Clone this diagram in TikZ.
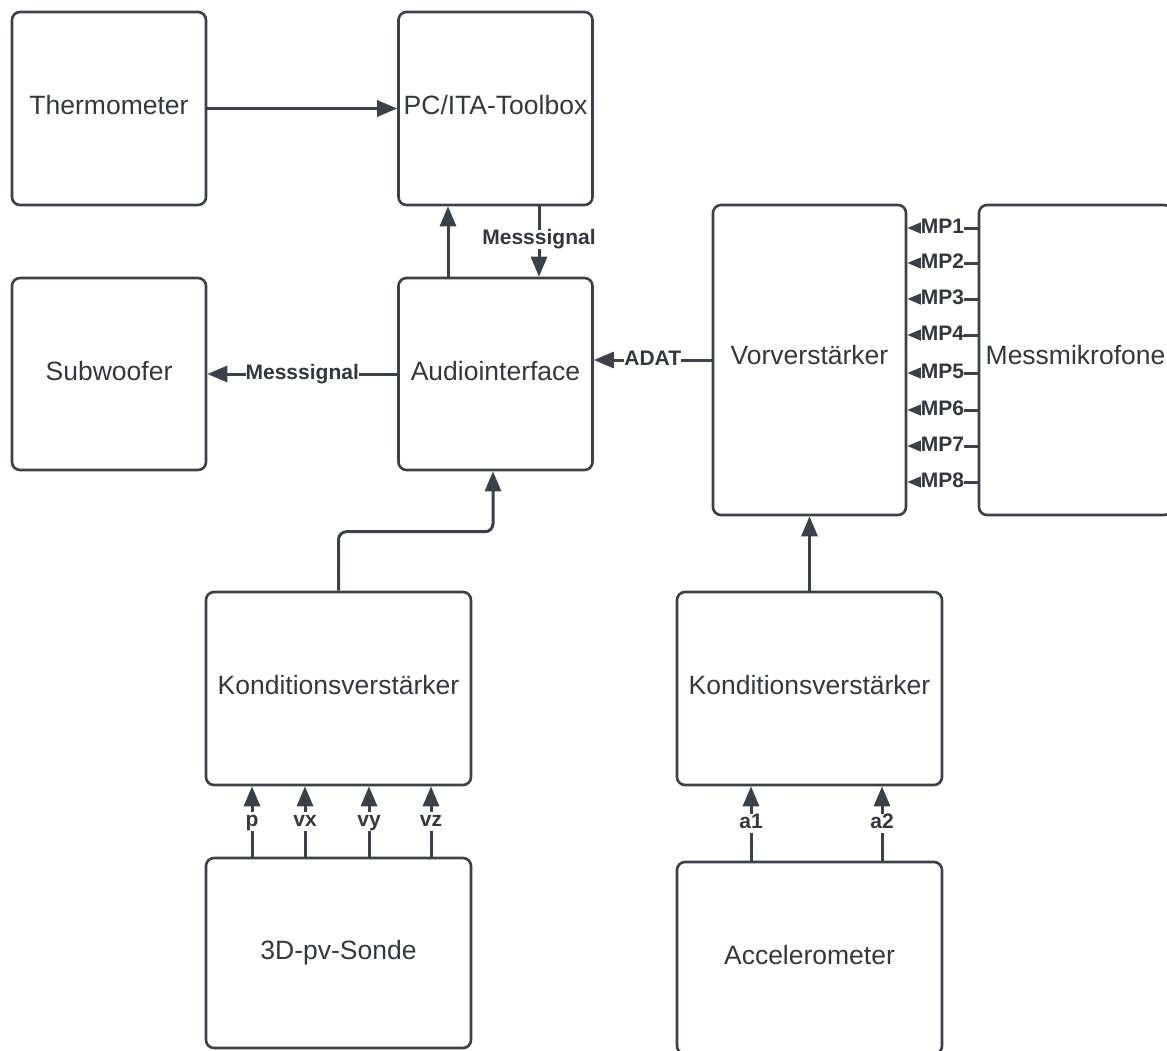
\documentclass[tikz,border=0pt]{standalone}
\usepackage{fontspec}
\setmainfont{Liberation Sans}
\usetikzlibrary{arrows.meta}
\definecolor{linegray}{HTML}{3A414A}
\definecolor{textgray}{HTML}{333740}
\tikzset{
  block/.style={draw=linegray, line width=2.6pt, rounded corners=8pt, text=textgray,
    font=\fontsize{26.5}{30}\selectfont, inner sep=0pt, text height=20pt, text depth=8pt,
    minimum width=194pt, minimum height=193pt},
  lbl/.style={fill=white, text=textgray, font=\bfseries\fontsize{21}{24}\selectfont, inner sep=0pt,
    text height=15pt, text depth=4.5pt},
  arr/.style={draw=linegray, line width=3pt, -{Triangle[length=20pt,width=16pt]}}
}
\begin{document}
\begin{tikzpicture}[x=1pt,y=-1pt]
\useasboundingbox (0,0) rectangle (1167,1050);
% blocks
\node[block] (thermo) at (109,108.5) {Thermometer};
\node[block] (pc) at (495.5,108.5) {PC/ITA-Toolbox};
\node[block, minimum height=192pt] (sub) at (109,374) {Subwoofer};
\node[block, minimum height=192pt] (audio) at (495.5,374) {Audiointerface};
\node[block, minimum width=193pt, minimum height=310pt] (vor) at (809.5,360) {\raisebox{2pt}{Vorverst\"arker}};
\node[block, minimum width=193pt, minimum height=310pt] (mic) at (1075.5,360) {\raisebox{2pt}{Messmikrofone}};
\node[block, minimum width=265pt] (kondL) at (338.5,688.5) {Konditionsverst\"arker};
\node[block, minimum width=265pt] (kondR) at (809.5,688.5) {Konditionsverst\"arker};
\node[block, minimum width=265pt, minimum height=190pt] (sonde) at (338.5,953) {3D-pv-Sonde};
\node[block, minimum width=265pt, minimum height=192pt] (accel) at (809.5,958) {Accelerometer};
% connectors
\draw[arr] (thermo.east) -- (pc.west);
\draw[arr] (audio.north -| 448,0) -- (pc.south -| 448,0);
\draw[arr] (pc.south -| 539,0) -- node[lbl, pos=0.47] {Messsignal} (audio.north -| 539,0);
\draw[arr] (audio.west) -- node[lbl] {Messsignal} (sub.east);
\draw[arr] (vor.west) -- node[lbl] {ADAT} (audio.east |- vor.west);
\foreach \y [count=\i] in {228,263,299,335,373,410,446,482}
  \draw[arr] (mic.west |- 0,\y) -- node[lbl] {MP\i} (vor.east |- 0,\y);
\draw[arr, rounded corners=8pt] (kondL.north) -- ++(0,-59) -| (audio.south -| 493,0);
\draw[arr] (kondR.north) -- (vor.south);
\foreach \x/\t in {252/p,305/vx,369/vy,431/vz}
  \draw[arr] (sonde.north -| \x,0) -- node[lbl] {\t} (kondL.south -| \x,0);
\foreach \x/\t in {751/a1,882/a2}
  \draw[arr] (accel.north -| \x,0) -- node[lbl] {\t} (kondR.south -| \x,0);
\end{tikzpicture}
\end{document}
